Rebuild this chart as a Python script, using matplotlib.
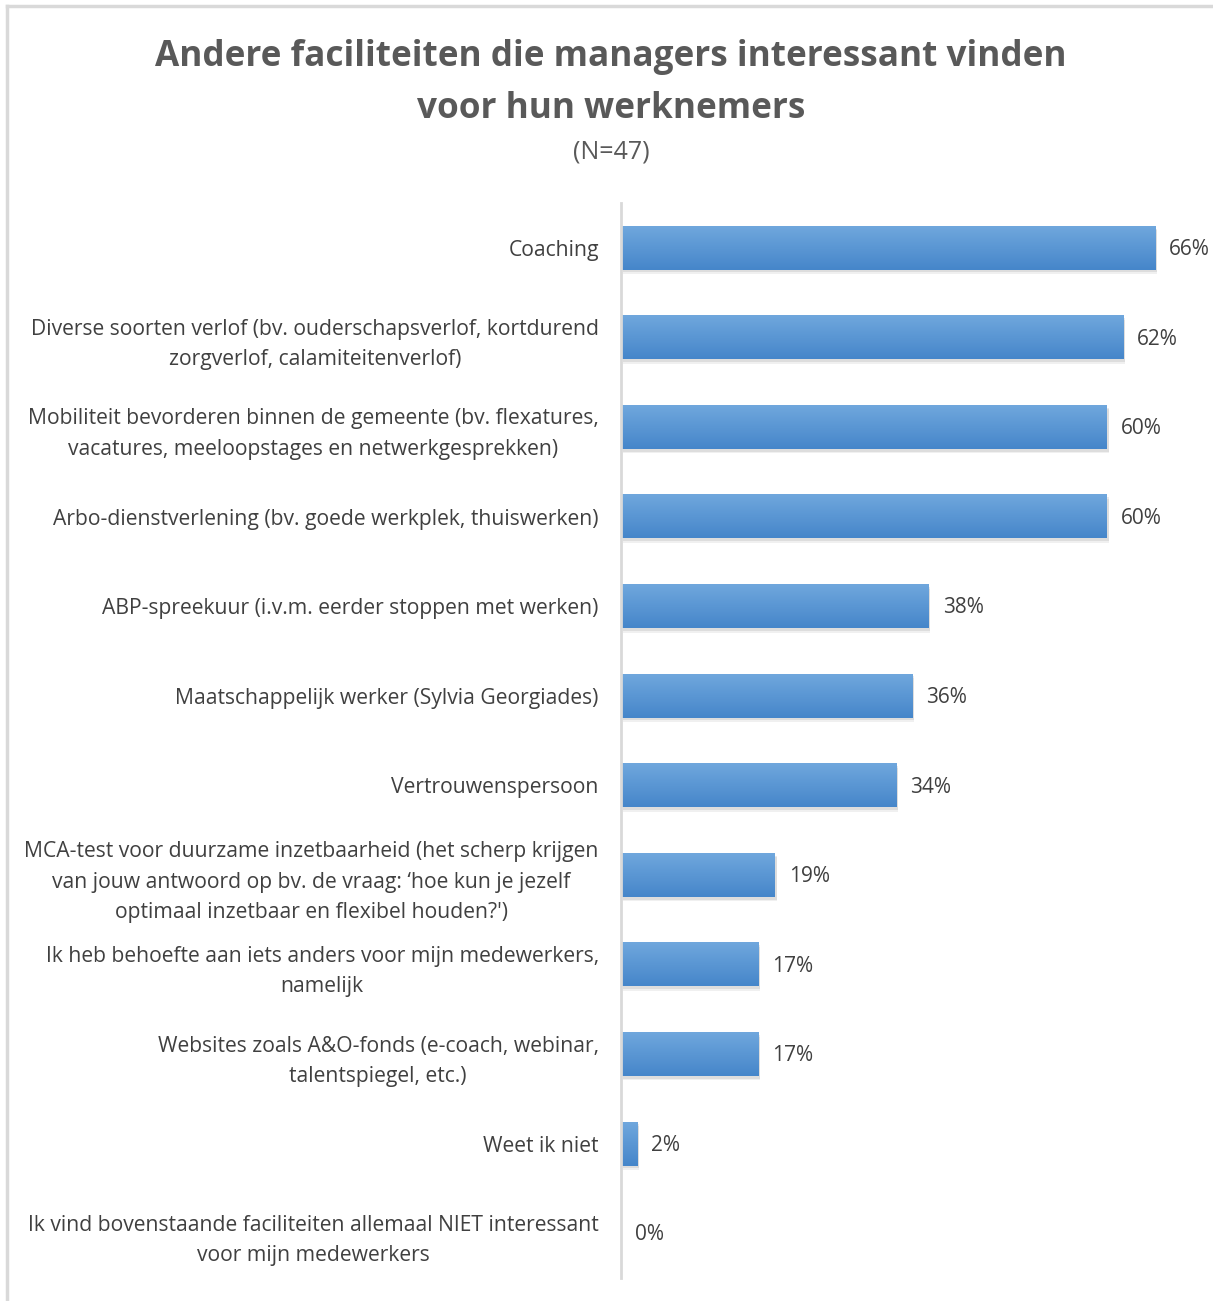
import matplotlib
matplotlib.use("Agg")
import matplotlib.pyplot as plt
import numpy as np
from matplotlib.lines import Line2D
from matplotlib.patches import Rectangle

categories = [
    "Coaching",
    "Diverse soorten verlof (bv. ouderschapsverlof, kortdurend\nzorgverlof, calamiteitenverlof)",
    "Mobiliteit bevorderen binnen de gemeente (bv. flexatures,\nvacatures, meeloopstages en netwerkgesprekken)",
    "Arbo-dienstverlening (bv. goede werkplek, thuiswerken)",
    "ABP-spreekuur (i.v.m. eerder stoppen met werken)",
    "Maatschappelijk werker (Sylvia Georgiades)",
    "Vertrouwenspersoon",
    "MCA-test voor duurzame inzetbaarheid (het scherp krijgen\nvan jouw antwoord op bv. de vraag: \u2018hoe kun je jezelf\noptimaal inzetbaar en flexibel houden?')",
    "Ik heb behoefte aan iets anders voor mijn medewerkers,\nnamelijk",
    "Websites zoals A&O-fonds (e-coach, webinar,\ntalentspiegel, etc.)",
    "Weet ik niet",
    "Ik vind bovenstaande faciliteiten allemaal NIET interessant\nvoor mijn medewerkers",
]
values = [66, 62, 60, 60, 38, 36, 34, 19, 17, 17, 2, 0]
value_labels = ["66%", "62%", "60%", "60%", "38%", "36%", "34%", "19%", "17%", "17%", "2%", "0%"]

title = "Andere faciliteiten die managers interessant vinden\nvoor hun werknemers"
subtitle = "(N=47)"

FONT = "Open Sans"
TEXT = "#404040"

W, H = 1213, 1301
fig = plt.figure(figsize=(W / 100, H / 100), dpi=100)
fig.patch.set_facecolor("white")

ax_left = 621 / W
ax_bottom = (H - 1278) / H
ax_h = (1278 - 203) / H
ax_w = (W - 621) / W
ax = fig.add_axes([ax_left, ax_bottom, ax_w, ax_h])

px_per_pct = 8.1
xmax = (W - 621) / px_per_pct
n = len(categories)

bh = 0.49
grad = np.linspace(0, 1, 64).reshape(-1, 1)
top = np.array([0x70, 0xA7, 0xDD]) / 255
bot = np.array([0x45, 0x86, 0xCA]) / 255
img = top[None, None, :] * (1 - grad[:, :, None]) + bot[None, None, :] * grad[:, :, None]

for i, v in enumerate(values):
    if v > 0:
        # soft shadow
        for k, a in [(0.05, 0.06), (0.03, 0.08)]:
            ax.add_patch(Rectangle((0.2, i - bh / 2 + k), v, bh,
                                   facecolor="#000000", alpha=a, edgecolor="none", zorder=1))
        ax.imshow(img, extent=(0, v, i + bh / 2, i - bh / 2), aspect="auto",
                  interpolation="bilinear", zorder=2)
    ax.text(v + 1.7, i + 0.02, value_labels[i], va="center", ha="left",
            fontsize=15, color=TEXT, family=FONT)

ax.set_xlim(0, xmax)
ax.set_ylim(n - 0.5, -0.5)
ax.set_yticks(range(n))
ax.set_yticklabels(categories, fontsize=15.2, color=TEXT, family=FONT,
                   linespacing=1.58, ha="right", multialignment="center")
ax.tick_params(axis="y", length=0, pad=16)
ax.set_xticks([])
for s in ["top", "right", "bottom"]:
    ax.spines[s].set_visible(False)
ax.spines["left"].set_color("#d9d9d9")
ax.spines["left"].set_linewidth(2)
ax.spines["left"].set_zorder(5)

fig.text(611 / W, 1 - 83 / H, title, ha="center", va="center", fontsize=25.3,
         fontweight="bold", color="#595959", family=FONT, linespacing=1.58)
fig.text(611 / W, 1 - 152 / H, subtitle, ha="center", va="center", fontsize=18,
         color="#595959", family=FONT)

# chart frame
fig.add_artist(Line2D([7 / W, 1212 / W], [1 - 6 / H, 1 - 6 / H], color="#d9d9d9", lw=2.5))
fig.add_artist(Line2D([7 / W, 7 / W], [1 - 6 / H, 0], color="#d9d9d9", lw=2.5))

fig.savefig("out.png", dpi=100, facecolor="white")
